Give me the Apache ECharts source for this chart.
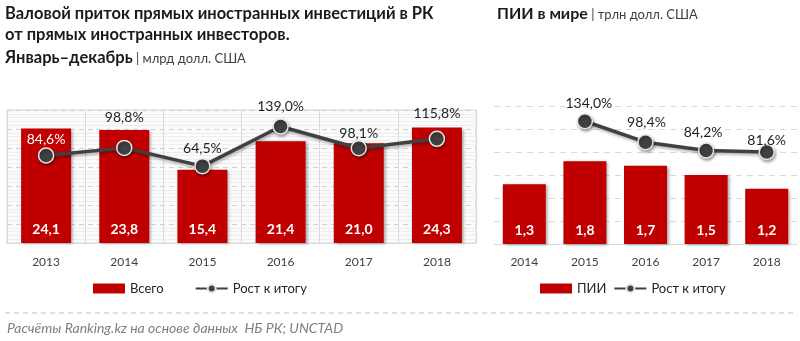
<!DOCTYPE html>
<html>
<head>
<meta charset="utf-8">
<script src="https://cdn.jsdelivr.net/npm/echarts@6/dist/echarts.min.js"></script>
<style>
  html, body { margin: 0; padding: 0; background: #ffffff; }
  #chart { width: 800px; height: 341px; }
</style>
</head>
<body>
<div id="chart"></div>
<script>
// Kazakhstan: gross FDI inflow, bn USD, and growth vs previous year, %
const kzYears = ['2013', '2014', '2015', '2016', '2017', '2018'];
const kzInflow = [24.1, 23.8, 15.4, 21.4, 21.0, 24.3];
const kzGrowth = [84.6, 98.8, 64.5, 139.0, 98.1, 115.8];

// World FDI, trn USD, and growth vs previous year, %
const worldYears = ['2014', '2015', '2016', '2017', '2018'];
const worldFdi = [1.3, 1.8, 1.7, 1.5, 1.2];
const worldGrowth = [null, 134.0, 98.4, 84.2, 81.6];

// Placement of the percentage labels relative to their markers (px)
const kzLabelLift = [16, 30, 18, 20, 15, 25];
const kzLabelColor = ['#ffffff', '#1f1f1f', '#1f1f1f', '#1f1f1f', '#1f1f1f', '#1f1f1f'];
const worldLabelLift = [0, 18, 20, 18, 12];
const worldLabelShift = [0, 4, 1, -3, 0];

const FONT = 'Lato, "Noto Sans", sans-serif';
const RED = '#c00000';
const DARK = '#404040';

const comma = v => v.toFixed(1).replace('.', ',');

const barShadow = {
  shadowColor: 'rgba(0,0,0,0.35)',
  shadowBlur: 3,
  shadowOffsetX: 2,
  shadowOffsetY: 1
};

const lineStyle = { color: DARK, width: 3.5, shadowColor: 'rgba(0,0,0,0.3)', shadowBlur: 3, shadowOffsetX: 1, shadowOffsetY: 2 };
const markerStyle = {
  color: DARK, borderColor: '#e6e6e6', borderWidth: 1.5,
  shadowColor: 'rgba(0,0,0,0.35)', shadowBlur: 3, shadowOffsetX: 1, shadowOffsetY: 2
};

const kzLineData = kzGrowth.map((v, i) => ({
  value: v,
  label: { offset: [0, -kzLabelLift[i]], color: kzLabelColor[i] }
}));
const worldLineData = worldGrowth.map((v, i) => v == null ? null : ({
  value: v,
  label: { offset: [worldLabelShift[i], -worldLabelLift[i]] }
}));

const pctLabel = {
  show: true,
  position: 'inside',
  formatter: p => comma(p.value) + '%',
  fontFamily: FONT,
  fontSize: 14,
  color: '#1f1f1f'
};

const valueLabel = {
  show: true,
  position: 'insideBottom',
  distance: 7,
  formatter: p => comma(p.value),
  fontFamily: FONT,
  fontSize: 14,
  fontWeight: 'bold',
  color: '#ffffff'
};

const chart = echarts.init(document.getElementById('chart'), null, { renderer: 'canvas' });

chart.setOption({
  animation: false,
  backgroundColor: '#ffffff',
  textStyle: { fontFamily: FONT },
  title: [
    {
      left: 0, top: 0, padding: [3, 5, 0, 5],
      text: '{h|Валовой приток прямых иностранных инвестиций в РК}\n' +
            '{h|от прямых иностранных инвесторов.}\n' +
            '{k|Январь–декабрь}{u| | млрд долл. США}',
      textStyle: {
        fontWeight: 'normal',
        rich: {
          h: { fontFamily: FONT, fontSize: 16.5, fontWeight: 'bold', color: '#1a1a1a', lineHeight: 21 },
          k: { fontFamily: FONT, fontSize: 16.5, fontWeight: 'bold', color: '#1a1a1a', lineHeight: 25 },
          u: { fontFamily: FONT, fontSize: 13, fontWeight: 'normal', color: '#404040', lineHeight: 25, padding: [3, 0, 0, 0] }
        }
      }
    },
    {
      left: 492, top: 0, padding: [4, 5, 0, 5],
      text: '{h|ПИИ в мире}{u| | трлн долл. США}',
      textStyle: {
        fontWeight: 'normal',
        rich: {
          h: { fontFamily: FONT, fontSize: 16, fontWeight: 'bold', color: '#1a1a1a', lineHeight: 20 },
          u: { fontFamily: FONT, fontSize: 13, fontWeight: 'normal', color: '#404040', lineHeight: 20, padding: [2, 0, 0, 0] }
        }
      }
    }
  ],
  grid: [
    { left: 7, right: 324, top: 110, bottom: 98, show: true, borderColor: '#d9d9d9', borderWidth: 1, backgroundColor: '#fbfbfb' },
    { left: 494, right: 3, top: 106, bottom: 97 }
  ],
  xAxis: [
    {
      type: 'category', gridIndex: 0, data: kzYears,
      axisLine: { lineStyle: { color: '#d9d9d9' } },
      axisTick: { show: false },
      axisLabel: { color: DARK, fontSize: 12, margin: 13, fontFamily: FONT },
      splitLine: { show: true, lineStyle: { color: '#d9d9d9' } }
    },
    {
      type: 'category', gridIndex: 1, data: worldYears,
      axisLine: { lineStyle: { color: '#d9d9d9' } },
      axisTick: { show: false },
      axisLabel: { color: DARK, fontSize: 12, margin: 12, fontFamily: FONT }
    }
  ],
  yAxis: [
    {
      type: 'value', gridIndex: 0, min: 0, max: 28, interval: 4,
      axisLabel: { show: false }, axisLine: { show: false }, axisTick: { show: false },
      splitLine: { lineStyle: { color: '#d0d0d0', type: [5, 4] } },
      minorTick: { show: false, splitNumber: 5 },
      minorSplitLine: { show: true, lineStyle: { color: '#eeeeee' } }
    },
    { type: 'value', gridIndex: 0, min: -80, max: 170, show: false, splitLine: { show: false } },
    {
      type: 'value', gridIndex: 1, min: 0, max: 3, interval: 0.5,
      axisLabel: { show: false }, axisLine: { show: false }, axisTick: { show: false },
      splitLine: { lineStyle: { color: '#d9d9d9', type: [6, 5] } }
    },
    { type: 'value', gridIndex: 1, min: -75, max: 160, show: false, splitLine: { show: false } }
  ],
  legend: [
    {
      left: 88, top: 277, itemWidth: 32, itemHeight: 10, itemGap: 31,
      textStyle: { fontFamily: FONT, fontSize: 13, color: '#262626' },
      data: [{ name: 'Всего', icon: 'rect' }, { name: 'Рост к итогу' }]
    },
    {
      left: 535, top: 277, itemWidth: 32, itemHeight: 10, itemGap: 7,
      textStyle: { fontFamily: FONT, fontSize: 13, color: '#262626' },
      data: [{ name: 'ПИИ', icon: 'rect' }, { name: 'Рост к итогу' }]
    }
  ],
  graphic: [
    {
      type: 'line', shape: { x1: 5, y1: 313, x2: 795, y2: 313 },
      style: { stroke: '#bfbfbf', lineWidth: 1, lineDash: [5, 4] }
    },
    {
      type: 'text', left: 7, top: 321,
      style: {
        text: 'Расчёты Ranking.kz на основе данных  НБ РК; UNCTAD',
        fontFamily: FONT, fontSize: 14, fontStyle: 'italic', fill: '#7f7f7f'
      }
    }
  ],
  series: [
    {
      name: 'Всего', type: 'bar', xAxisIndex: 0, yAxisIndex: 0,
      data: kzInflow, barWidth: 50,
      itemStyle: Object.assign({ color: RED }, barShadow),
      label: valueLabel, z: 2
    },
    {
      name: 'Рост к итогу', type: 'line', xAxisIndex: 0, yAxisIndex: 1,
      data: kzLineData, symbol: 'circle', symbolSize: 15,
      lineStyle: lineStyle, itemStyle: markerStyle,
      label: pctLabel, z: 5
    },
    {
      name: 'ПИИ', type: 'bar', xAxisIndex: 1, yAxisIndex: 2,
      data: worldFdi, barWidth: 43,
      itemStyle: Object.assign({ color: RED }, barShadow),
      label: valueLabel, z: 2
    },
    {
      name: 'Рост к итогу', type: 'line', xAxisIndex: 1, yAxisIndex: 3,
      data: worldLineData, symbol: 'circle', symbolSize: 15,
      lineStyle: lineStyle, itemStyle: markerStyle,
      label: pctLabel, z: 5
    }
  ]
});
</script>
</body>
</html>
